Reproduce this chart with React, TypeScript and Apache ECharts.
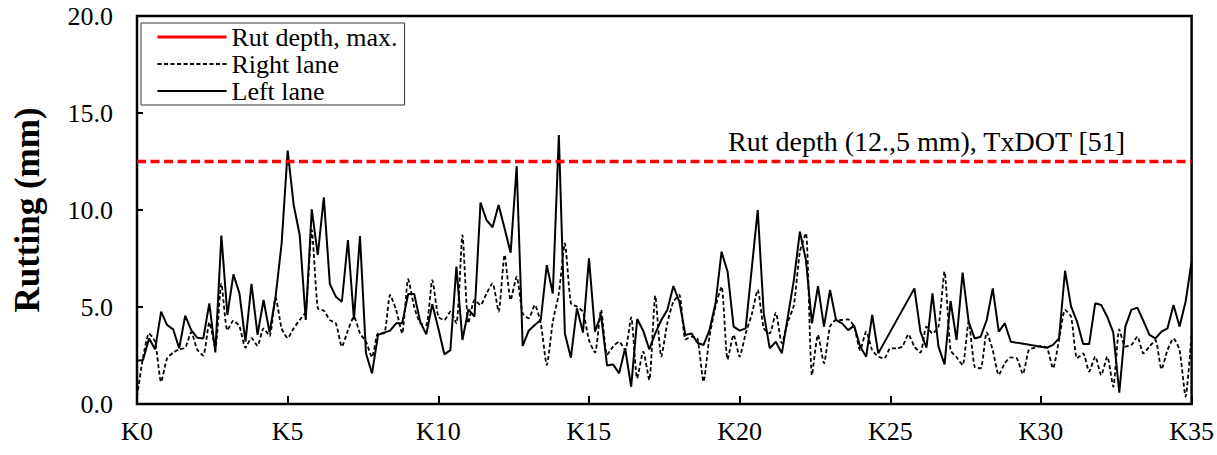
import React, { useEffect, useRef } from "react";
import * as echarts from "echarts";

const FONT = '"Liberation Serif", "Times New Roman", serif';

// Stations (km)
const stations = [
  0, 0.2, 0.4, 0.6, 0.8, 1, 1.2, 1.4, 1.6, 1.8, 2, 2.2, 2.4, 2.6, 2.8, 3, 3.2, 3.4, 3.6, 3.8, 4, 4.2, 4.4, 4.6, 4.8,
  5, 5.2, 5.4, 5.6, 5.8, 6, 6.2, 6.4, 6.6, 6.8, 7, 7.2, 7.4, 7.6, 7.8, 8, 8.2, 8.4, 8.6, 8.8, 9, 9.2, 9.4, 9.6, 9.8,
  10, 10.2, 10.4, 10.6, 10.8, 11, 11.2, 11.4, 11.6, 11.8, 12, 12.2, 12.4, 12.6, 12.8, 13, 13.2, 13.4, 13.6, 13.8, 14, 14.2, 14.4, 14.6, 14.8,
  15, 15.2, 15.4, 15.6, 15.8, 16, 16.2, 16.4, 16.6, 16.8, 17, 17.2, 17.4, 17.6, 17.8, 18, 18.2, 18.4, 18.6, 18.8, 19, 19.2, 19.4, 19.6, 19.8,
  20, 20.2, 20.4, 20.6, 20.8, 21, 21.2, 21.4, 21.6, 21.8, 22, 22.2, 22.4, 22.6, 22.8, 23, 23.2, 23.4, 23.6, 23.8, 24, 24.2, 24.4, 24.6, 24.8,
  25, 25.2, 25.4, 25.6, 25.8, 26, 26.2, 26.4, 26.6, 26.8, 27, 27.2, 27.4, 27.6, 27.8, 28, 28.2, 28.4, 28.6, 28.8, 29, 29.2, 29.4, 29.6, 29.8,
  30, 30.2, 30.4, 30.6, 30.8, 31, 31.2, 31.4, 31.6, 31.8, 32, 32.2, 32.4, 32.6, 32.8, 33, 33.2, 33.4, 33.6, 33.8, 34, 34.2, 34.4, 34.6, 34.8, 35,
];

// Left lane rutting (mm); null = no measurement
const leftLane = [
  2.23, 2.27, 3.38, 2.82, 4.76, 4.07, 3.85, 2.87, 4.55, 3.81, 3.42, 3.38, 5.19, 2.66, 8.68, 4.59, 6.68, 5.7, 3.21, 6.19, 3.56, 5.36, 3.68, 5.53, 8.28,
  13.06, 10.26, 8.71, 4.33, 10.03, 7.68, 10.65, 6.19, 5.53, 5.27, 8.45, 4.36, 8.66, 2.61, 1.58, 3.56, 3.68, 3.78, 4.16, 4.16, 5.67, 5.67, 4.24, 3.59, 5.14,
  3.9, 2.56, 2.78, 7.08, 3.3, 4.88, 4.5, 10.38, 9.48, 9.11, 10.26, 9.05, 7.8, 12.27, 2.99, 3.78, 4.07, 4.33, 7.16, 5.7, 13.87, 3.64, 2.39, 4.93, 3.68,
  7.51, 3.73, 4.59, 1.98, 2.04, 1.58, 2.87, 0.89, 4.38, 3.78, 2.82, 3.64, 4.33, 4.85, 6.08, 5.27, 3.56, 3.64, 3.16, 3.04, 3.81, 5.19, 7.85, 6.82, 3.99,
  3.78, 3.9, null, 10.0, 4.67, 2.87, 3.21, 2.61, 4.5, 6.39, 8.88, 7.42, 4.16, 6.08, 3.99, 5.88, 4.33, 4.16, 3.81, 4.04, 2.96, 2.44, 4.59, 2.61, null,
  null, null, null, null, 5.96, 3.73, 2.9, 5.7, 2.96, 2.04, 5.31, 3.3, 6.77, 4.24, 3.38, 3.47, 4.33, 5.96, 3.73, 4.16, 3.21, null, null, null, null,
  2.95, 2.9, 3.05, 3.38, 6.87, 5.02, 4.24, 3.09, 3.09, 5.19, 5.1, 4.5, 3.68, 0.58, 3.99, 4.85, 4.97, 4.28, 3.56, 3.38, 3.73, 3.9, 5.1, 3.99, 5.27, 7.34,
];

// Right lane rutting (mm)
const rightLane = [
  0.38, 2.4, 3.64, 3.21, 1.15, 2.35, 2.65, 2.82, 2.9, 3.7, 2.8, 2.5, 4.2, 2.9, 6.2, 3.8, 4.3, 4.0, 2.9, 3.4, 3.0, 3.9, 3.5, 5.5, 3.9,
  3.4, 3.9, 4.33, 4.76, 8.97, 4.93, 4.81, 4.33, 4.16, 2.96, 3.8, 4.5, 3.64, 3.21, 2.41, 3.64, 3.64, 5.62, 4.85, 3.64, 6.43, 5.0, 4.16, 4.07, 6.39,
  4.5, 4.33, 4.76, 4.16, 8.71, 4.16, 5.36, 5.1, 5.7, 6.22, 4.76, 7.68, 5.36, 6.56, 4.67, 4.42, 5.1, 4.16, 2.01, 4.24, 5.7, 8.28, 5.19, 5.02, 4.76,
  3.3, 2.65, 4.85, 2.53, 2.96, 3.21, 2.78, 4.47, 1.32, 2.7, 1.24, 5.58, 2.44, 4.16, 5.27, 5.62, 3.33, 3.47, 3.38, 1.15, 3.47, 5.02, 6.05, 2.3, 3.56,
  2.44, 3.64, 4.6, 5.88, 3.9, 3.64, 4.71, 3.13, 4.24, 5.1, 7.85, 8.8, 1.49, 3.56, 2.1, 3.99, 4.33, 4.33, 4.36, 3.99, 2.78, 3.73, 2.78, 2.44, 2.35,
  2.87, 2.87, 2.96, 3.59, 2.96, 2.65, 3.99, 3.64, 3.99, 6.82, 2.78, 2.41, 2.01, 4.24, 1.92, 1.84, 3.69, 2.78, 1.5, 2.1, 2.4, 2.35, 1.55, 2.8, 2.9,
  3.0, 2.9, 1.84, 3.3, 4.85, 4.5, 2.35, 2.61, 1.67, 2.44, 1.49, 2.44, 0.89, 3.85, 2.96, 3.04, 3.47, 2.61, 2.96, 3.3, 1.79, 2.78, 3.38, 2.78, 0.38, 3.64,
];

const rutLimit = 12.5;
const xRange = [0, 35];
const seriesNames = ["Rut depth, max.", "Right lane", "Left lane"];
const annotation = "Rut depth (12.,5 mm), TxDOT [51]";
const yTitle = "Rutting (mm)";

export default function App() {
  const ref = useRef<HTMLDivElement>(null);

  useEffect(() => {
    if (!ref.current) return;
    const chart = echarts.init(ref.current, undefined, { renderer: "svg" });
    const pair = (vals: (number | null)[]) =>
      stations.map((k, i) => [k, vals[i] === null ? null : vals[i]]);

    chart.setOption({
      animation: false,
      backgroundColor: "#fff",
      grid: {
        left: 137,
        right: 25,
        top: 16,
        bottom: 51,
        show: true,
        borderColor: "#000",
        borderWidth: 2.5,
        backgroundColor: "transparent",
      },
      legend: {
        orient: "vertical",
        left: 141,
        top: 23,
        padding: [1, 7, 1, 15],
        borderColor: "#333",
        borderWidth: 1,
        itemWidth: 69,
        itemHeight: 12,
        itemGap: 1,
        itemStyle: { color: "rgba(0,0,0,0)", borderWidth: 0, opacity: 0 },
        textStyle: { fontFamily: FONT, fontSize: 26, color: "#000" },
        data: [
          { name: seriesNames[0], lineStyle: { type: "solid", width: 3 } },
          { name: seriesNames[1] },
          { name: seriesNames[2] },
        ],
      },
      xAxis: {
        type: "value",
        min: xRange[0],
        max: xRange[1],
        interval: 5,
        axisLine: { show: false },
        axisTick: { show: true, inside: true, length: 8, lineStyle: { color: "#000", width: 2 } },
        splitLine: { show: false },
        axisLabel: {
          formatter: (v: number) => "K" + v,
          fontFamily: FONT,
          fontSize: 26,
          color: "#000",
          margin: 14,
        },
      },
      yAxis: {
        type: "value",
        min: 0,
        max: 20,
        interval: 5,
        name: yTitle,
        nameLocation: "middle",
        nameGap: 92,
        nameTextStyle: { fontFamily: FONT, fontSize: 35, fontWeight: "bold", color: "#000" },
        axisLine: { show: false },
        axisTick: { show: true, inside: true, length: 6, lineStyle: { color: "#000", width: 2 } },
        splitLine: { show: false },
        axisLabel: {
          formatter: (v: number) => v.toFixed(1),
          fontFamily: FONT,
          fontSize: 26,
          color: "#000",
          margin: 24,
        },
      },
      series: [
        {
          name: seriesNames[0],
          type: "line",
          symbol: "none",
          data: [
            [xRange[0], rutLimit],
            [xRange[1], rutLimit],
          ],
          lineStyle: { color: "#ff0000", width: 3.5, type: [9, 4.5] },
          itemStyle: { color: "#ff0000" },
          z: 3,
        },
        {
          name: seriesNames[1],
          type: "line",
          symbol: "none",
          smooth: 0.2,
          data: pair(rightLane),
          lineStyle: { color: "#000", width: 1.8, type: [4, 2.5] },
          itemStyle: { color: "#000" },
          z: 2,
        },
        {
          name: seriesNames[2],
          type: "line",
          symbol: "none",
          connectNulls: true,
          data: pair(leftLane),
          lineStyle: { color: "#000", width: 2 },
          itemStyle: { color: "#000" },
          z: 2,
        },
      ],
      graphic: [
        {
          type: "text",
          left: 728,
          top: 127,
          style: { text: annotation, font: `28px ${FONT}`, fill: "#000" },
        },
      ],
    });
    return () => chart.dispose();
  }, []);

  return (
    <div
      ref={ref}
      style={{ position: "absolute", left: 0, top: 0, width: 1217, height: 455, background: "#fff" }}
    />
  );
}
